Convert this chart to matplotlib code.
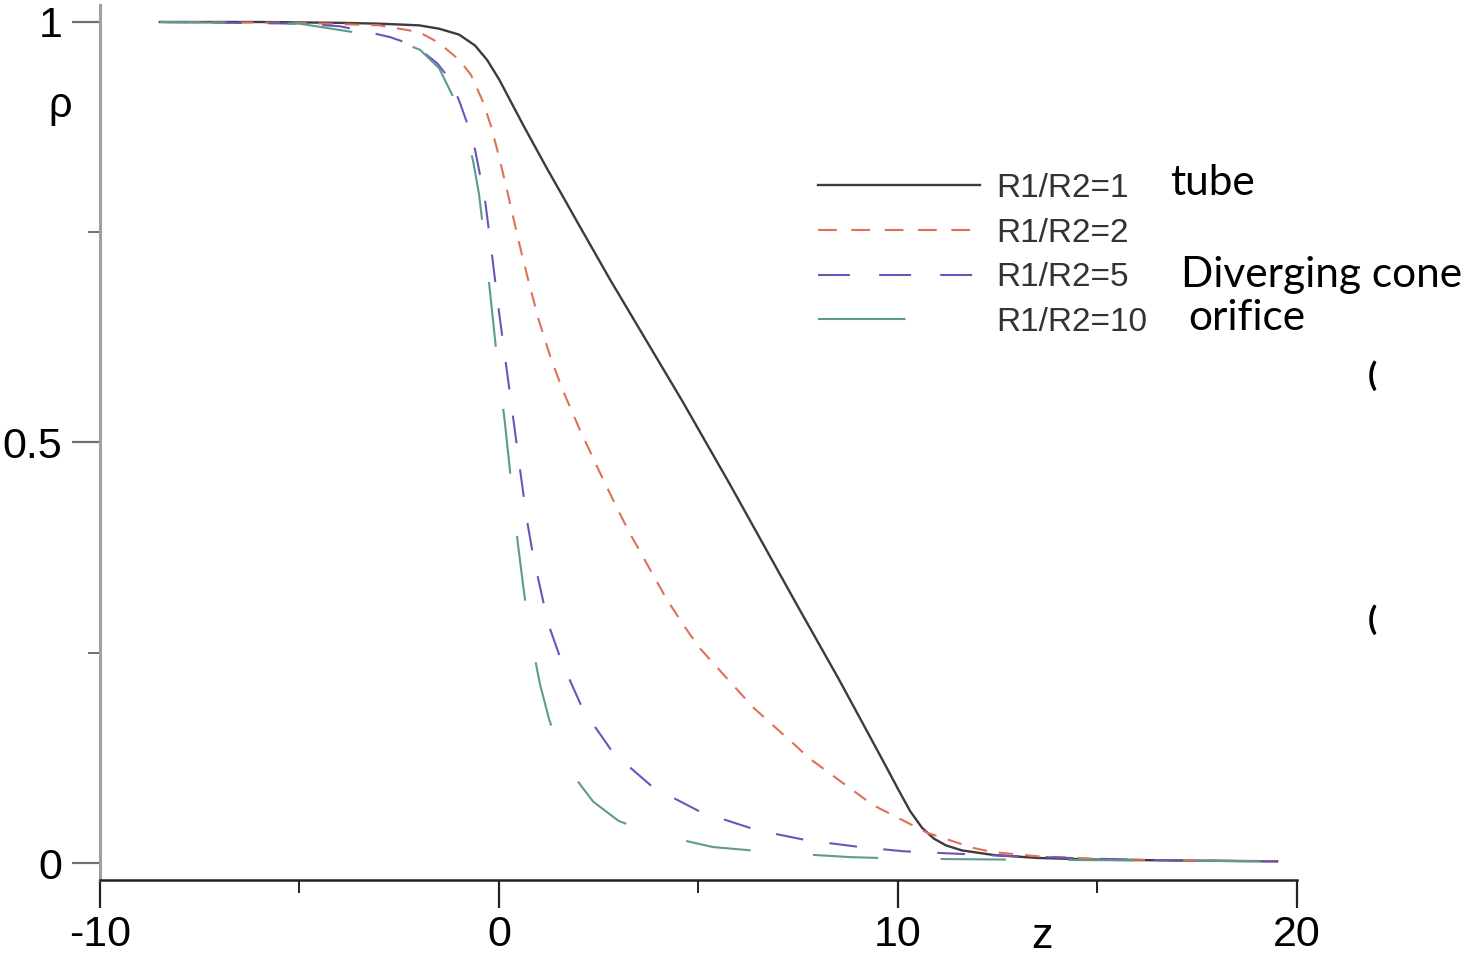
import numpy as np
import matplotlib
matplotlib.use('Agg')
import matplotlib.pyplot as plt
from matplotlib.lines import Line2D
from matplotlib.ticker import MultipleLocator

plt.rcParams['lines.scale_dashes'] = False

# values
z_tube = [-8.5, -6, -4, -3, -2, -1.5, -1, -0.6, -0.3, 0, 0.3, 0.6, 0.9, 1.2, 1.5, 2.0,
          2.78, 4.61, 5.79, 7.49, 8.5, 9.3, 9.72, 10.0, 10.3, 10.6, 10.9, 11.2, 11.6,
          12.4, 13.5, 15, 17, 19.5]
rho_tube = [1.0, 1.0, 0.999, 0.998, 0.996, 0.992, 0.985, 0.972, 0.955, 0.932, 0.905, 0.878,
            0.852, 0.826, 0.801, 0.759, 0.694, 0.548, 0.450, 0.305, 0.220, 0.150, 0.113,
            0.088, 0.062, 0.042, 0.029, 0.021, 0.015, 0.0095, 0.006, 0.004, 0.003, 0.002]

z_r2 = [-8.5, -5, -3, -2, -1.5, -1.0, -0.7, -0.4, -0.2, 0, 0.25, 0.5, 0.75, 1.0, 1.3, 1.6,
        2.0, 2.5, 3.0, 3.28, 4.21, 4.71, 5.04, 6.37, 7.47, 7.79, 9.37, 10.73, 11.88, 12.38,
        13.5, 15, 17, 19.5]
rho_r2 = [1.0, 0.999, 0.996, 0.988, 0.975, 0.955, 0.937, 0.905, 0.876, 0.840, 0.790, 0.738,
          0.690, 0.645, 0.600, 0.562, 0.518, 0.467, 0.418, 0.392, 0.313, 0.277, 0.255, 0.185,
          0.138, 0.124, 0.069, 0.036, 0.018, 0.013, 0.008, 0.005, 0.003, 0.002]

z_r5 = [-8.5, -5, -4, -3.28, -2.73, -2.3, -1.98, -1.55, -1.2, -0.98, -0.8, -0.6, -0.35, -0.18,
        -0.03, 0.15, 0.28, 0.53, 0.70, 0.82, 0.95, 1.23, 1.58, 2.11, 2.86, 3.86, 5.04, 6.47,
        7.72, 9.05, 10.13, 11.48, 13, 15, 17, 19.5]
rho_r5 = [1.0, 0.998, 0.995, 0.988, 0.982, 0.975, 0.967, 0.951, 0.930, 0.904, 0.880, 0.848,
          0.788, 0.725, 0.666, 0.602, 0.556, 0.467, 0.408, 0.375, 0.345, 0.285, 0.238, 0.182,
          0.131, 0.090, 0.061, 0.039, 0.027, 0.019, 0.014, 0.011, 0.008, 0.005, 0.003, 0.002]

z_r10 = [-8.5, -5, -3.66, -2.7, -1.98, -1.5, -1.15, -0.9, -0.65, -0.5, -0.35, -0.2, -0.05,
         0.15, 0.30, 0.48, 0.70, 0.85, 1.03, 1.25, 1.48, 1.8, 2.36, 3.0, 3.78, 5.36, 7.04,
         8.8, 10.3, 13, 19.5]
rho_r10 = [1.0, 0.998, 0.988, 0.980, 0.967, 0.945, 0.911, 0.880, 0.835, 0.795, 0.735, 0.668,
           0.600, 0.523, 0.455, 0.377, 0.295, 0.255, 0.212, 0.172, 0.138, 0.108, 0.073, 0.050,
           0.036, 0.019, 0.012, 0.007, 0.005, 0.004, 0.002]

labels = ['R1/R2=1', 'R1/R2=2', 'R1/R2=5', 'R1/R2=10']
notes = ['tube', 'Diverging cone', 'orifice']

c_tube = '#3c3c3c'
c_r2 = '#e07058'
c_r5 = '#6a55b8'
c_r10 = '#5e9a90'

fig = plt.figure(figsize=(14.66, 9.55), dpi=100)
ax = fig.add_axes([100 / 1466, 75 / 955, 1197 / 1466, 875 / 955])

lw = 1.5
ax.plot(z_tube, rho_tube, color=c_tube, lw=1.7)
ax.plot(z_r2, rho_r2, color=c_r2, lw=lw, dashes=(10.5, 8.5))
ax.plot(z_r5, rho_r5, color=c_r5, lw=lw, dashes=(20, 19))
ax.plot(z_r10, rho_r10, color=c_r10, lw=lw, dashes=(47, 45))

ax.set_xlim(-10, 20)
ax.set_ylim(-0.0202, 1.0202)

for s in ['top', 'right']:
    ax.spines[s].set_visible(False)
ax.spines['left'].set_color('#a0a0a0')
ax.spines['left'].set_linewidth(2.2)
ax.spines['bottom'].set_color('#222222')
ax.spines['bottom'].set_linewidth(1.8)

ax.xaxis.set_major_locator(MultipleLocator(10))
ax.xaxis.set_minor_locator(MultipleLocator(5))
ax.yaxis.set_major_locator(MultipleLocator(0.5))
ax.yaxis.set_minor_locator(MultipleLocator(0.25))
ax.yaxis.set_major_formatter(plt.FuncFormatter(lambda v, p: {0: '0', 0.5: '0.5', 1: '1'}.get(round(v, 2), '')))
ax.xaxis.set_major_formatter(plt.FuncFormatter(lambda v, p: '%d' % v))

tick_font = 'Liberation Sans'
ax.tick_params(axis='y', which='major', length=20, width=1.6, color='#707070', pad=7,
               labelsize=31, labelfontfamily=tick_font)
ax.tick_params(axis='y', which='minor', length=9, width=1.4, color='#707070')
ax.tick_params(axis='x', which='major', length=20, width=1.6, color='#222222', pad=5,
               labelsize=31, labelfontfamily=tick_font)
ax.tick_params(axis='x', which='minor', length=9, width=1.4, color='#222222')

ax.text(-11.0, 0.90, 'ρ', fontsize=30, family=tick_font, ha='center', va='center', clip_on=False)
ax.text(13.6, -0.088, 'z', fontsize=31, family=tick_font, ha='center', va='center', clip_on=False)

handles = [
    Line2D([], [], color=c_tube, lw=1.7),
    Line2D([], [], color=c_r2, lw=lw, dashes=(13.5, 10.5)),
    Line2D([], [], color=c_r5, lw=lw, dashes=(23, 21)),
    Line2D([], [], color=c_r10, lw=lw, dashes=(63, 150)),
]
ax.legend(handles, labels, loc='upper left', bbox_to_anchor=(0.5998, 0.808), frameon=False,
          prop={'family': tick_font, 'size': 24}, handlelength=4.86, handletextpad=0.5,
          labelspacing=0.41, borderaxespad=0, borderpad=0, labelcolor='#333333')

note_font = ['Lato', 'DejaVu Sans']
ax.text(16.82, 0.8086, notes[0], fontsize=30.5, family=note_font, ha='left', va='center', clip_on=False)
ax.text(17.09, 0.699, notes[1], fontsize=30.5, family=note_font, ha='left', va='center', clip_on=False)
ax.text(17.27, 0.648, notes[2], fontsize=30.5, family=note_font, ha='left', va='center', clip_on=False)

# clipped bits of some other text at the right edge
ax.text(21.78, 0.580, '(', fontsize=24, family=note_font, weight='bold', ha='left', va='center', clip_on=False)
ax.text(21.78, 0.289, '(', fontsize=24, family=note_font, weight='bold', ha='left', va='center', clip_on=False)

fig.savefig('out.png', dpi=100)
